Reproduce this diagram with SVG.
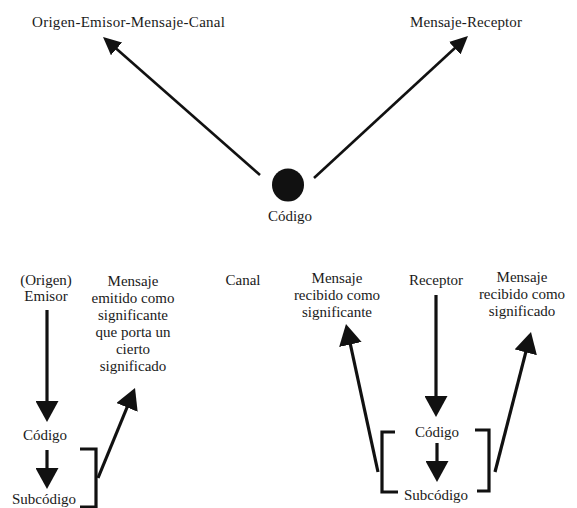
<svg xmlns="http://www.w3.org/2000/svg" width="577" height="508" viewBox="0 0 577 508">
<style>
text{font-family:'Liberation Serif','Times New Roman',Times,serif;font-size:15px;fill:#1a1a1a}
.c{text-anchor:middle}
.ln{stroke:#111;fill:none}
.t{stroke-width:2.6}
.b{stroke-width:3.2}
</style>
<defs>
<marker id="hs" markerUnits="userSpaceOnUse" viewBox="0 0 18 17" markerWidth="18" markerHeight="17" refX="1" refY="8.5" orient="auto"><path d="M0,0 L18,8.5 L0,17 z" fill="#111"/></marker>
<marker id="hb" markerUnits="userSpaceOnUse" viewBox="0 0 21 23" markerWidth="21" markerHeight="23" refX="1" refY="11.5" orient="auto"><path d="M0,0 L21,11.5 L0,23 z" fill="#111"/></marker>
</defs>
<rect width="577" height="508" fill="#fff"/>
<g id="connectors">
<line class="ln t" x1="260" y1="175" x2="115.8" y2="48.2" marker-end="url(#hs)"/>
<line class="ln t" x1="314" y1="178" x2="455.5" y2="47.5" marker-end="url(#hs)"/>
<line class="ln b" x1="47" y1="310" x2="47" y2="402" marker-end="url(#hb)"/>
<line class="ln b" x1="47" y1="450" x2="47" y2="469" marker-end="url(#hb)"/>
<line class="ln b" x1="98" y1="478" x2="127.4" y2="406.5" marker-end="url(#hb)"/>
<line class="ln b" x1="436" y1="295" x2="436" y2="397" marker-end="url(#hb)"/>
<line class="ln b" x1="437" y1="443" x2="437" y2="462" marker-end="url(#hb)"/>
<line class="ln b" x1="378" y1="472" x2="350.2" y2="343.5" marker-end="url(#hb)"/>
<line class="ln b" x1="495" y1="472" x2="526" y2="351.4" marker-end="url(#hb)"/>
<path class="ln b" d="M80,449 H96 V507 H80"/>
<path class="ln b" d="M395,432 H382 V492 H398"/>
<path class="ln b" d="M475,430 H489 V491 H477"/>
</g>
<g font-family="Liberation Serif, serif">
<g id="top-left"><text x="32" y="27" textLength="193">Origen-Emisor-Mensaje-Canal</text></g>
<g id="top-right"><text x="410" y="27" textLength="112">Mensaje-Receptor</text></g>
<g id="codigo-center"><ellipse cx="288" cy="185" rx="16" ry="16.5" fill="#111"/><text class="c" x="290" y="221">Código</text></g>
<g id="emisor"><text class="c" x="46" y="285">(Origen)</text><text class="c" x="46" y="301">Emisor</text></g>
<g id="mensaje-emitido"><text class="c" x="133" y="286">Mensaje</text><text class="c" x="133" y="303">emitido como</text><text class="c" x="133" y="320">significante</text><text class="c" x="133" y="337">que porta un</text><text class="c" x="133" y="354">cierto</text><text class="c" x="133" y="371">significado</text></g>
<g id="canal"><text class="c" x="243" y="285">Canal</text></g>
<g id="mensaje-significante"><text class="c" x="337" y="283">Mensaje</text><text class="c" x="337" y="300">recibido como</text><text class="c" x="337" y="317">significante</text></g>
<g id="receptor"><text class="c" x="436" y="285">Receptor</text></g>
<g id="mensaje-significado"><text class="c" x="522" y="282">Mensaje</text><text class="c" x="522" y="299">recibido como</text><text class="c" x="522" y="316">significado</text></g>
<g id="codigo-left"><text class="c" x="45" y="440">Código</text></g>
<g id="subcodigo-left"><text class="c" x="44" y="504">Subcódigo</text></g>
<g id="codigo-right"><text class="c" x="437" y="437">Código</text></g>
<g id="subcodigo-right"><text class="c" x="436" y="500">Subcódigo</text></g>
</g>
</svg>
